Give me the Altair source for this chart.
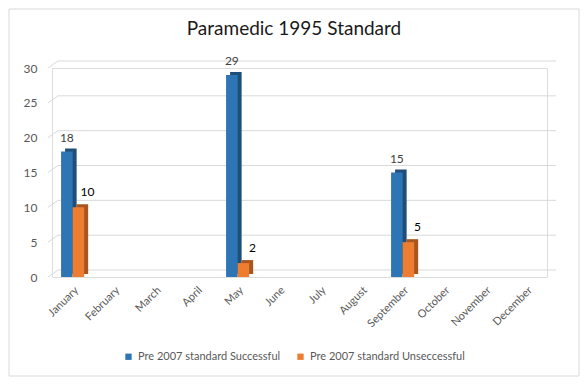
import altair as alt
import pandas as pd

months = ["January", "February", "March", "April", "May", "June", "July",
          "August", "September", "October", "November", "December"]
series = ["Pre 2007 standard Successful", "Pre 2007 standard Unseccessful"]
successful = [18, None, None, None, 29, None, None, None, 15, None, None, None]
unsuccessful = [10, None, None, None, 2, None, None, None, 5, None, None, None]
front_colors = ["#2E75B6", "#ED7D31"]
side_colors = ["#1F4E79", "#A9561E"]
y_ticks = [0, 5, 10, 15, 20, 25, 30]
title_text = "Paramedic 1995 Standard"

rows = []
for m, s, u in zip(months, successful, unsuccessful):
    if s is not None:
        rows.append({"month": m, "series": series[0], "value": s, "side": side_colors[0]})
    if u is not None:
        rows.append({"month": m, "series": series[1], "value": u, "side": side_colors[1]})
df = pd.DataFrame(rows)
grid_df = pd.DataFrame({"v": y_ticks})
frame_df = pd.DataFrame({"t": [title_text]})

W, H = 495, 209
FONT = "Lato"
P_IN, P_OUT = 0.44, 0.22
step = W / (len(months) - P_IN + 2 * P_OUT)
bw = step * (1 - P_IN)

x_enc = alt.X("month:N", sort=months,
              scale=alt.Scale(domain=months, paddingInner=P_IN, paddingOuter=P_OUT),
              axis=alt.Axis(title=None, labelAngle=-45, domain=False, ticks=False,
                            labelPadding=7, labelColor="#595959", labelFontSize=11,
                            labelFont=FONT))
y_scale = alt.Scale(domain=[0, 30], nice=False)
y_axis = alt.Axis(title=None, values=y_ticks, grid=False, domain=False,
                  ticks=False, labelPadding=15, labelColor="#595959",
                  labelFontSize=12, labelFont=FONT)
y_enc = alt.Y("value:Q", scale=y_scale, axis=y_axis)
xoff = alt.XOffset("series:N", sort=series, scale=alt.Scale(domain=series))
xoff_side = alt.XOffset("series:N", sort=series,
                        scale=alt.Scale(domain=series, range=[4, 4 + bw]))

frame = alt.Chart(frame_df).mark_rect(fillOpacity=0, stroke="#D9D9D9", strokeWidth=1).encode(
    x=alt.value(-43), x2=alt.value(527), y=alt.value(-59), y2=alt.value(308))
title = alt.Chart(frame_df).mark_text(fontSize=19, font=FONT, color="#1A1A1A",
                                      baseline="alphabetic", align="center").encode(
    x=alt.value(242), y=alt.value(-33), text="t:N")

grid_back = alt.Chart(grid_df).mark_rule(color="#D9D9D9", strokeWidth=1, yOffset=-7).encode(
    y=alt.Y("v:Q", scale=y_scale, axis=y_axis), x=alt.value(6), x2=alt.value(504))
grid_slant = alt.Chart(grid_df).mark_rule(color="#D9D9D9", strokeWidth=1, y2Offset=-7).encode(
    y=alt.Y("v:Q", scale=y_scale, axis=y_axis), y2="v:Q", x=alt.value(-4), x2=alt.value(6))

side = alt.Chart(df).mark_bar(yOffset=-3).encode(
    x=x_enc, xOffset=xoff_side, y=y_enc, color=alt.Color("side:N", scale=None))

front = alt.Chart(df).mark_bar().encode(
    x=x_enc, xOffset=xoff, y=y_enc,
    color=alt.Color("series:N", sort=series,
                    scale=alt.Scale(domain=series, range=front_colors),
                    legend=alt.Legend(title=None, orient="none", legendX=71, legendY=283,
                                      direction="horizontal", symbolType="square",
                                      symbolSize=40, symbolStrokeWidth=0, padding=0,
                                      labelFontSize=11, labelColor="#595959",
                                      labelFont=FONT, columnPadding=14,
                                      labelOffset=4)))

lab_s = alt.Chart(df).transform_filter(alt.datum.series == series[0]).mark_text(
    baseline="middle", dy=-14, fontSize=12, color="#404040", font=FONT).encode(
    x=x_enc, xOffset=xoff, y=y_enc, text="value:Q")
lab_u = alt.Chart(df).transform_filter(alt.datum.series == series[1]).mark_text(
    baseline="middle", dy=-15, dx=9, fontSize=12, color="#000000", font=FONT).encode(
    x=x_enc, xOffset=xoff, y=y_enc, text="value:Q")

side_grp = alt.layer(side)
rest = alt.layer(front, lab_s, lab_u)

chart = alt.layer(frame, title, grid_back, grid_slant, side_grp, rest).resolve_scale(
    xOffset="independent").properties(
    width=W, height=H,
    autosize=alt.AutoSizeParams(type="none"),
    padding={"left": 44, "top": 60, "right": 33, "bottom": 100},
).configure_view(stroke=None).configure(background="white")

chart.save("out.html", embed_options={"renderer": "svg", "actions": False})
